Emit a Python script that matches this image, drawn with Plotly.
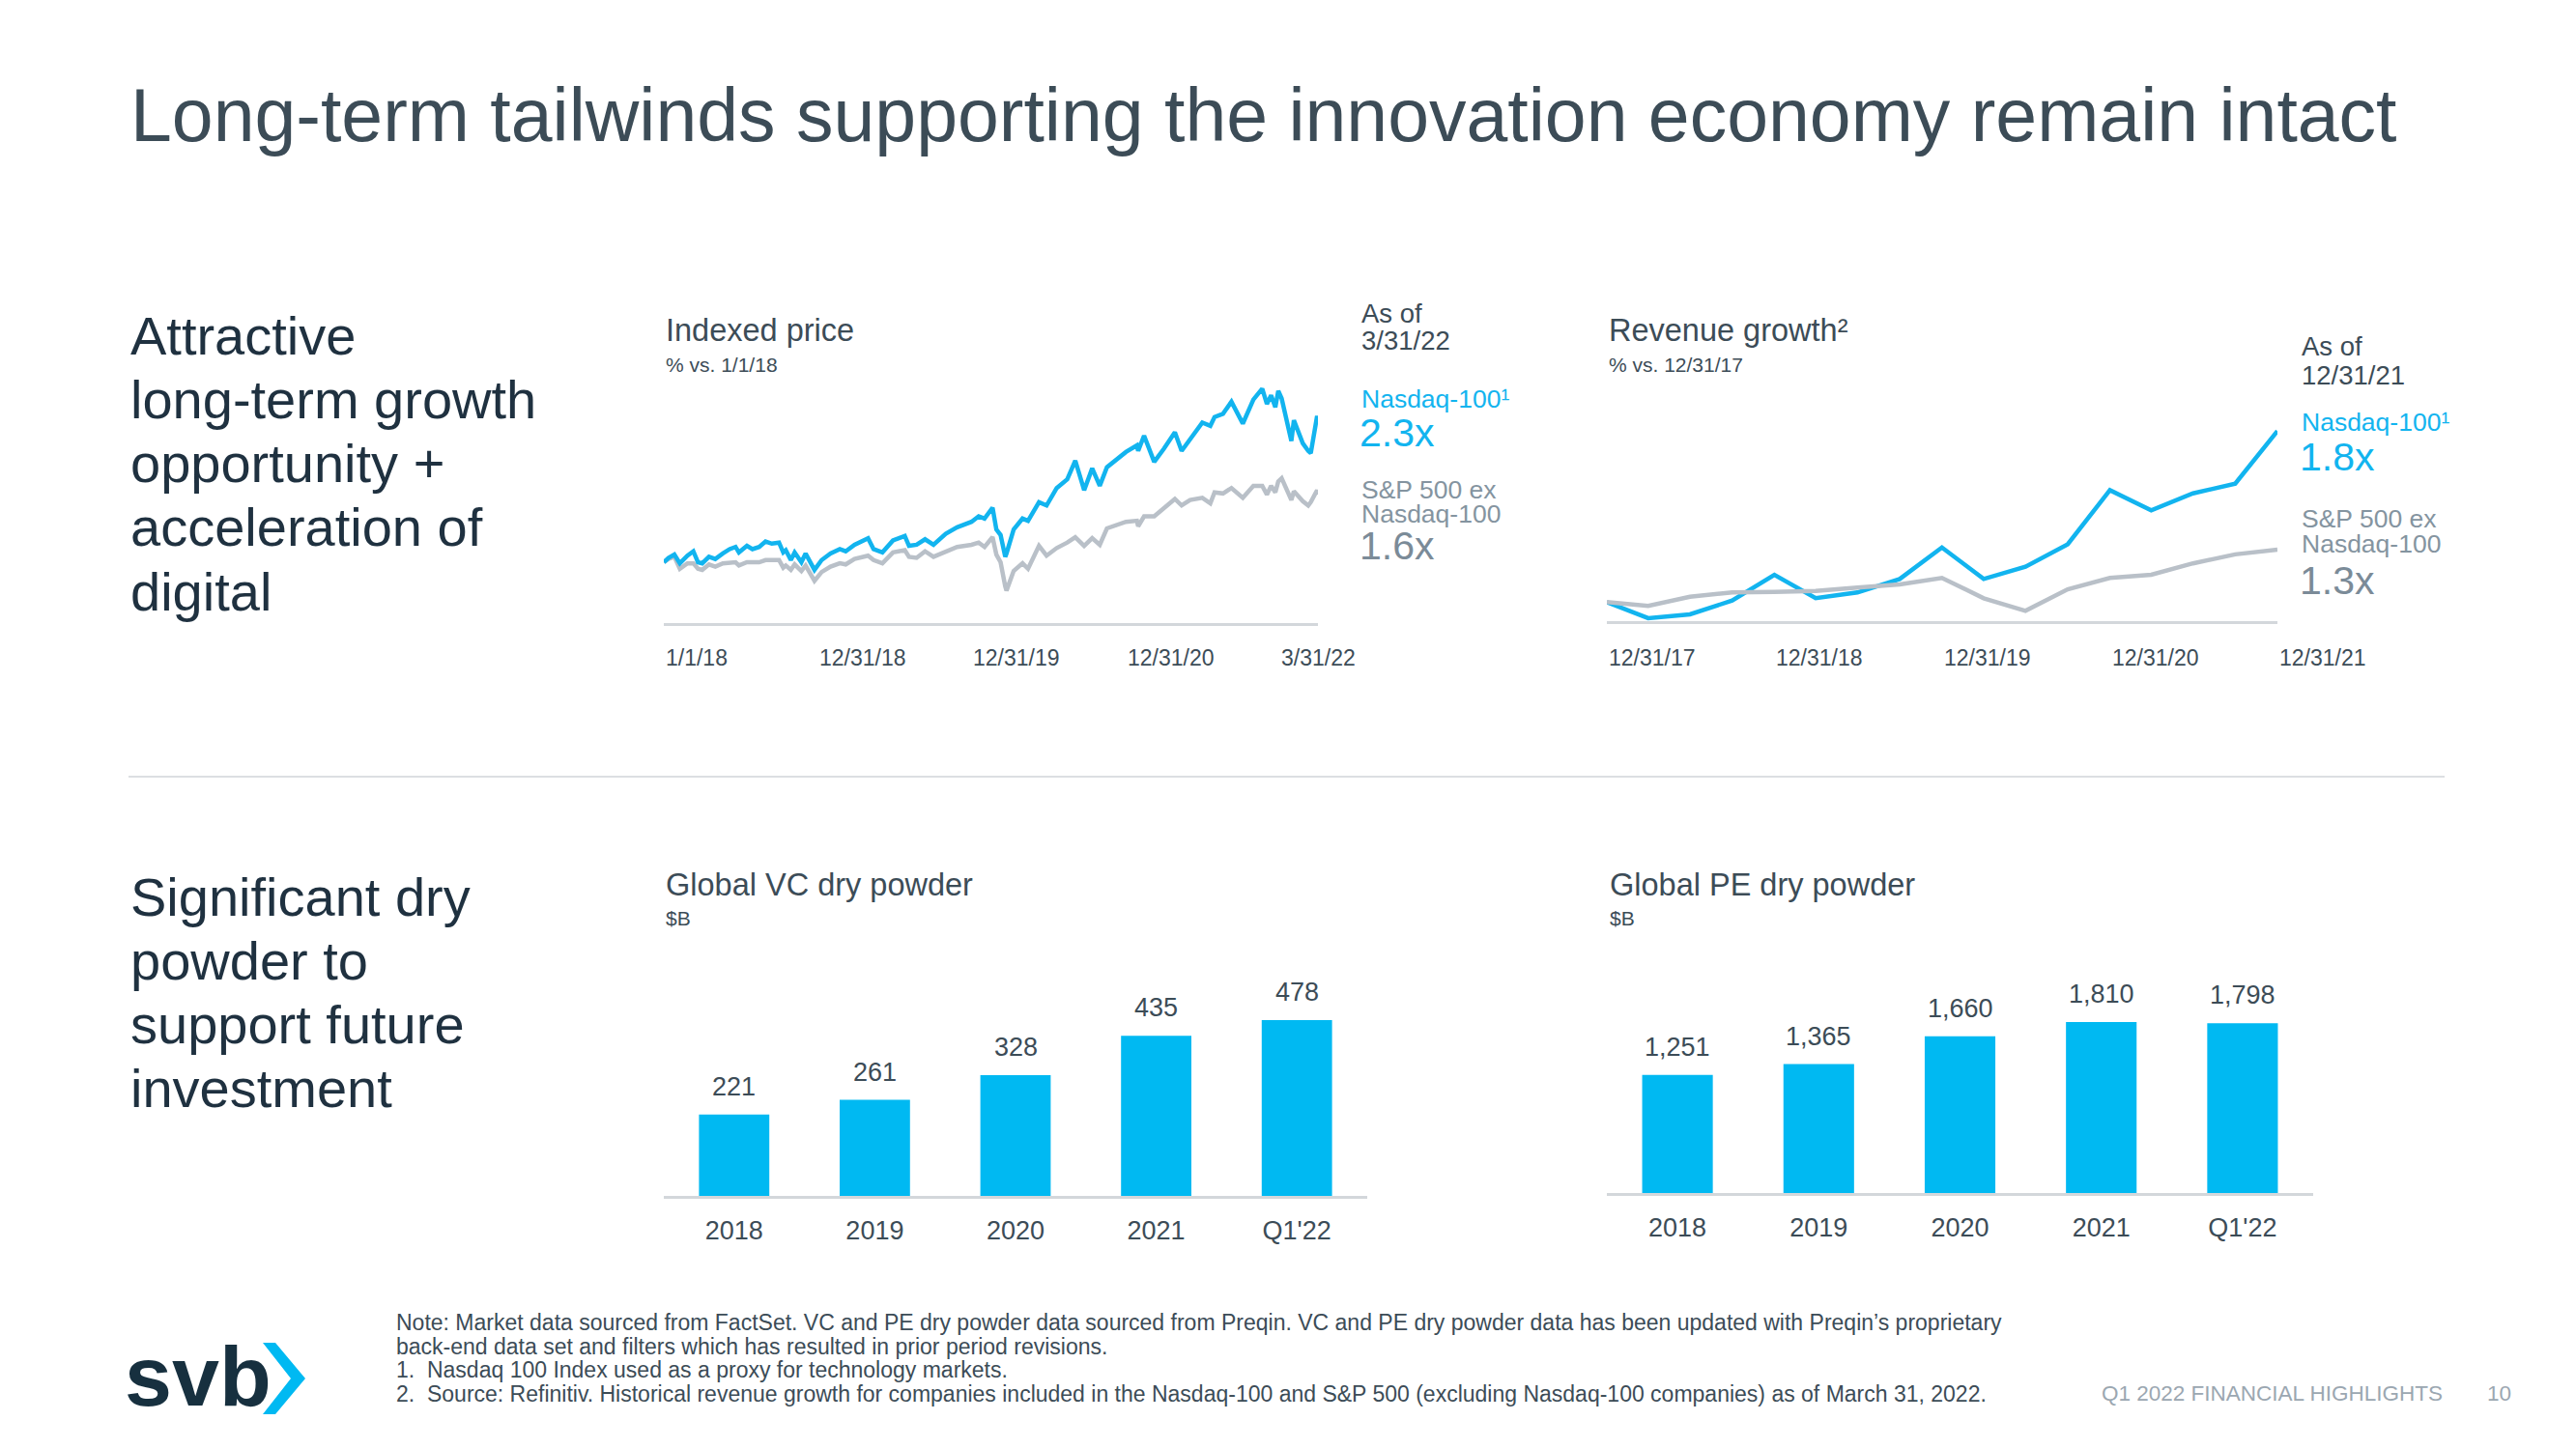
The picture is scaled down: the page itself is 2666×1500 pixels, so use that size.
import plotly.graph_objects as go

W, H = 2666, 1500
OFF = 8                      # page margin added around the plot by the browser
FW, FH = W - 2 * OFF, H - 2 * OFF

# ---------------- data ----------------
price_dates = [
    "2018-01-01", "2018-01-12", "2018-01-26", "2018-02-08", "2018-02-26", "2018-03-12",
    "2018-03-23", "2018-04-02", "2018-04-18", "2018-05-03", "2018-05-21", "2018-06-06",
    "2018-06-20", "2018-06-28", "2018-07-17", "2018-07-30", "2018-08-15", "2018-08-30",
    "2018-09-14", "2018-10-01", "2018-10-11", "2018-10-17", "2018-10-29", "2018-11-07",
    "2018-11-23", "2018-12-03", "2018-12-24", "2019-01-10", "2019-01-31", "2019-02-22",
    "2019-03-08", "2019-03-29", "2019-04-30", "2019-05-13", "2019-06-03", "2019-06-28",
    "2019-07-26", "2019-08-05", "2019-08-23", "2019-09-12", "2019-10-02", "2019-10-31",
    "2019-11-27", "2019-12-31", "2020-01-17", "2020-01-31", "2020-02-19", "2020-02-28",
    "2020-03-09", "2020-03-20", "2020-03-23", "2020-04-09", "2020-04-30", "2020-05-13",
    "2020-06-08", "2020-06-26", "2020-07-20", "2020-08-14", "2020-09-02", "2020-09-23",
    "2020-10-12", "2020-10-30", "2020-11-16", "2020-12-31", "2021-01-26", "2021-01-29",
    "2021-02-12", "2021-03-08", "2021-03-31", "2021-04-26", "2021-05-12", "2021-06-01",
    "2021-06-30", "2021-07-19", "2021-07-29", "2021-08-18", "2021-09-07", "2021-09-30",
    "2021-10-04", "2021-10-29", "2021-11-19", "2021-11-30", "2021-12-10", "2021-12-20",
    "2021-12-27", "2022-01-04", "2022-01-27", "2022-02-02", "2022-02-23", "2022-03-08",
    "2022-03-14", "2022-03-29", "2022-03-31",
]
nasdaq_idx = [
    1.00, 1.04, 1.07, 0.99, 1.06, 1.10,
    1.00, 0.99, 1.05, 1.03, 1.08, 1.12,
    1.14, 1.09, 1.15, 1.12, 1.14, 1.19,
    1.17, 1.18, 1.09, 1.11, 1.02, 1.09,
    1.00, 1.08, 0.93, 1.02, 1.08, 1.12,
    1.10, 1.16, 1.22, 1.12, 1.09, 1.20,
    1.24, 1.15, 1.16, 1.21, 1.16, 1.26,
    1.32, 1.37, 1.42, 1.40, 1.50, 1.30,
    1.25, 1.05, 1.08, 1.30, 1.40, 1.38,
    1.55, 1.52, 1.68, 1.76, 1.93, 1.66,
    1.86, 1.70, 1.87, 2.01, 2.07, 2.02,
    2.16, 1.92, 2.04, 2.19, 2.02, 2.12,
    2.28, 2.25, 2.33, 2.36, 2.47, 2.30,
    2.27, 2.49, 2.59, 2.45, 2.53, 2.42,
    2.57, 2.50, 2.11, 2.30, 2.09, 2.02,
    2.00, 2.34, 2.30,
]
sp_ex_idx = [
    1.00, 1.03, 1.05, 0.94, 0.99, 0.99,
    0.94, 0.93, 0.98, 0.96, 0.99, 1.00,
    1.00, 0.97, 1.00, 1.00, 1.00, 1.02,
    1.02, 1.02, 0.95, 0.97, 0.93, 0.98,
    0.92, 0.97, 0.83, 0.91, 0.96, 0.99,
    0.98, 1.03, 1.06, 1.02, 0.99, 1.09,
    1.11, 1.05, 1.04, 1.10, 1.05, 1.10,
    1.14, 1.16, 1.18, 1.14, 1.23, 1.07,
    1.00, 0.78, 0.74, 0.92, 0.99, 0.94,
    1.15, 1.06, 1.13, 1.18, 1.23, 1.15,
    1.22, 1.16, 1.31, 1.37, 1.38, 1.33,
    1.42, 1.42, 1.50, 1.58, 1.52, 1.57,
    1.59, 1.54, 1.64, 1.63, 1.68, 1.60,
    1.59, 1.70, 1.70, 1.62, 1.70, 1.64,
    1.74, 1.77, 1.57, 1.65, 1.56, 1.52,
    1.55, 1.66, 1.62,
]
price_tick_dates = ["2018-01-01", "2018-12-31", "2019-12-31", "2020-12-31", "2022-03-31"]
price_tick_labels = ["1/1/18", "12/31/18", "12/31/19", "12/31/20", "3/31/22"]

rev_dates = [
    "2017-12-31", "2018-03-31", "2018-06-30", "2018-09-30", "2018-12-31",
    "2019-03-31", "2019-06-30", "2019-09-30", "2019-12-31",
    "2020-03-31", "2020-06-30", "2020-09-30", "2020-12-31",
    "2021-03-31", "2021-06-30", "2021-09-30", "2021-12-31",
]
rev_nasdaq = [1.00, 0.925, 0.943, 1.007, 1.127, 1.018, 1.045, 1.108, 1.255,
              1.108, 1.165, 1.270, 1.523, 1.429, 1.508, 1.553, 1.799]
rev_sp_ex = [1.00, 0.982, 1.025, 1.045, 1.048, 1.052, 1.068, 1.083, 1.113,
             1.018, 0.959, 1.060, 1.113, 1.128, 1.181, 1.223, 1.245]
rev_tick_dates = ["2017-12-31", "2018-12-31", "2019-12-31", "2020-12-31", "2021-12-31"]
rev_tick_labels = ["12/31/17", "12/31/18", "12/31/19", "12/31/20", "12/31/21"]

bar_cats = ["2018", "2019", "2020", "2021", "Q1'22"]
vc_dry_powder = [221, 261, 328, 435, 478]
pe_dry_powder = [1251, 1365, 1660, 1810, 1798]

# ---------------- styling ----------------
FONT = "Liberation Sans, Arial, sans-serif"
DARK = "#3c4c57"
NAVY = "#1f3140"
BLUE_LINE = "#12b4ef"
BLUE_BAR = "#00b9f2"
GRAY_LINE = "#b9c0c8"
GRAY_TXT = "#8494a0"
GRAY_BIG = "#7b8b98"
AXIS = "#d3d7db"


def px(x):
    return (x - OFF) / FW


def py(y):
    return 1 - (y - OFF) / FH


def dx(a, b):
    return [px(a), px(b)]


def dy(top, bottom):
    return [py(bottom), py(top)]


fig = go.Figure()

# Indexed price
fig.add_trace(go.Scatter(x=price_dates, y=sp_ex_idx, mode="lines",
                         line=dict(color=GRAY_LINE, width=4.5), xaxis="x", yaxis="y",
                         hoverinfo="skip"))
fig.add_trace(go.Scatter(x=price_dates, y=nasdaq_idx, mode="lines",
                         line=dict(color=BLUE_LINE, width=4.5), xaxis="x", yaxis="y",
                         hoverinfo="skip"))
# Revenue growth
fig.add_trace(go.Scatter(x=rev_dates, y=rev_nasdaq, mode="lines",
                         line=dict(color=BLUE_LINE, width=4.5), xaxis="x2", yaxis="y2",
                         hoverinfo="skip"))
fig.add_trace(go.Scatter(x=rev_dates, y=rev_sp_ex, mode="lines",
                         line=dict(color=GRAY_LINE, width=4.5), xaxis="x2", yaxis="y2",
                         hoverinfo="skip"))
# Bars
fig.add_trace(go.Bar(x=bar_cats, y=vc_dry_powder, marker=dict(color=BLUE_BAR, line=dict(width=0)),
                     xaxis="x3", yaxis="y3", hoverinfo="skip"))
fig.add_trace(go.Bar(x=bar_cats, y=pe_dry_powder, marker=dict(color=BLUE_BAR, line=dict(width=0)),
                     xaxis="x4", yaxis="y4", hoverinfo="skip"))

hidden_y = dict(visible=False, showgrid=False, zeroline=False, fixedrange=True)
line_x = dict(showline=True, linecolor=AXIS, linewidth=3, showgrid=False, zeroline=False,
              ticks="", fixedrange=True)

fig.update_layout(
    width=FW, height=FH,
    margin=dict(l=0, r=0, t=0, b=0),
    paper_bgcolor="white", plot_bgcolor="rgba(0,0,0,0)",
    showlegend=False,
    bargap=0.5,
    font=dict(family=FONT, color=DARK),
    xaxis=dict(domain=dx(687, 1364), type="date", range=["2018-01-01", "2022-03-31"],
               showticklabels=False, anchor="y", **line_x),
    yaxis=dict(domain=dy(380, 645), range=[0.4425, 2.788], anchor="x", **hidden_y),
    xaxis2=dict(domain=dx(1663, 2357), type="date", range=["2017-12-31", "2021-12-31"],
                showticklabels=False, anchor="y2", **line_x),
    yaxis2=dict(domain=dy(380, 643), range=[0.911, 2.098], anchor="x2", **hidden_y),
    xaxis3=dict(domain=dx(687, 1415), type="category", range=[-0.5, 4.5], anchor="y3",
                tickfont=dict(size=27, color=DARK, family=FONT), ticklabelstandoff=10, **line_x),
    yaxis3=dict(domain=dy(1000, 1238), range=[0, 625], anchor="x3", **hidden_y),
    xaxis4=dict(domain=dx(1663, 2394), type="category", range=[-0.5, 4.5], anchor="y4",
                tickfont=dict(size=27, color=DARK, family=FONT), ticklabelstandoff=10, **line_x),
    yaxis4=dict(domain=dy(1000, 1235), range=[0, 2403], anchor="x4", **hidden_y),
)

ann = []


def text(x, y, s, size, color=DARK, anchor="left", bold=False):
    ann.append(dict(x=px(x), y=py(y), xref="paper", yref="paper", text=(f"<b>{s}</b>" if bold else s),
                    showarrow=False, xanchor=anchor, yanchor="middle",
                    font=dict(size=size, color=color, family=FONT)))


# Title
text(133, 119, "Long-term tailwinds supporting the innovation economy remain intact", 77, DARK)

# Left section headings
for i, line in enumerate(["Attractive", "long-term growth", "opportunity +", "acceleration of", "digital"]):
    text(133, 347 + i * 66.3, line, 56, NAVY)
for i, line in enumerate(["Significant dry", "powder to", "support future", "investment"]):
    text(133, 928 + i * 66.3, line, 56, NAVY)

# Chart titles
text(687, 342, "Indexed price", 32.5, DARK)
text(687, 377, "% vs. 1/1/18", 21, DARK)
text(1663, 342, "Revenue growth²", 32.5, DARK)
text(1663, 377, "% vs. 12/31/17", 21, DARK)
text(687, 916, "Global VC dry powder", 32.5, DARK)
text(687, 950, "$B", 21, DARK)
text(1664, 916, "Global PE dry powder", 32.5, DARK)
text(1664, 950, "$B", 21, DARK)

# Right-side labels, chart 1
text(1407, 324, "As of", 27.5, DARK)
text(1407, 352, "3/31/22", 27.5, DARK)
text(1407, 413, "Nasdaq-100¹", 26.5, BLUE_LINE)
text(1405, 448, "2.3x", 41, BLUE_LINE)
text(1407, 507, "S&P 500 ex", 26.5, GRAY_TXT)
text(1407, 532, "Nasdaq-100", 26.5, GRAY_TXT)
text(1405, 565, "1.6x", 41, GRAY_BIG)

# Right-side labels, chart 2
text(2380, 358, "As of", 27.5, DARK)
text(2380, 388, "12/31/21", 27.5, DARK)
text(2380, 437, "Nasdaq-100¹", 26.5, BLUE_LINE)
text(2378, 473, "1.8x", 41, BLUE_LINE)
text(2380, 537, "S&P 500 ex", 26.5, GRAY_TXT)
text(2380, 563, "Nasdaq-100", 26.5, GRAY_TXT)
text(2378, 601, "1.3x", 41, GRAY_BIG)

# Line chart tick labels (left aligned at tick, last one of chart 1 centred)
for i, (d, lab) in enumerate(zip(price_tick_dates, price_tick_labels)):
    ann.append(dict(x=d, y=py(681), xref="x", yref="paper", text=lab, showarrow=False,
                    xanchor=("center" if i == len(price_tick_dates) - 1 else "left"), yanchor="middle",
                    font=dict(size=23, color=DARK, family=FONT)))
for d, lab in zip(rev_tick_dates, rev_tick_labels):
    ann.append(dict(x=d, y=py(681), xref="x2", yref="paper", text=lab, showarrow=False,
                    xanchor="left", yanchor="middle",
                    font=dict(size=23, color=DARK, family=FONT)))

# Bar value labels (category positions by index)
for i, v in enumerate(vc_dry_powder):
    ann.append(dict(x=i, y=v, xref="x3", yref="y3", text=f"{v:,}", showarrow=False,
                    xanchor="center", yanchor="bottom", yshift=12,
                    font=dict(size=27, color=DARK, family=FONT)))
for i, v in enumerate(pe_dry_powder):
    ann.append(dict(x=i, y=v, xref="x4", yref="y4", text=f"{v:,}", showarrow=False,
                    xanchor="center", yanchor="bottom", yshift=12,
                    font=dict(size=27, color=DARK, family=FONT)))

# Footer
notes = [
    "Note: Market data sourced from FactSet. VC and PE dry powder data sourced from Preqin. VC and PE dry powder data has been updated with Preqin’s proprietary",
    "back-end data set and filters which has resulted in prior period revisions.",
    "1.  Nasdaq 100 Index used as a proxy for technology markets.",
    "2.  Source: Refinitiv. Historical revenue growth for companies included in the Nasdaq-100 and S&P 500 (excluding Nasdaq-100 companies) as of March 31, 2022.",
]
for i, n in enumerate(notes):
    text(408, 1369 + i * 24.5, n, 23, DARK)
text(2530, 1442, "Q1 2022 FINANCIAL HIGHLIGHTS", 22.5, "#9ba7b1", anchor="right")
text(2586, 1442, "10", 22.5, "#9ba7b1", anchor="center")
text(127, 1424, "svb", 88, "#17303f", bold=True)

fig.update_layout(annotations=ann)

# Separator line and logo chevron
fig.add_shape(type="line", xref="paper", yref="paper", x0=px(133), x1=px(2530), y0=py(804), y1=py(804),
              line=dict(color="#dcdfe2", width=2))
chev = [(272, 1390), (285, 1390), (316, 1427), (285, 1464), (272, 1464), (301, 1427)]
path = "M " + " L ".join(f"{px(a)} {py(b)}" for a, b in chev) + " Z"
fig.add_shape(type="path", xref="paper", yref="paper", path=path,
              fillcolor=BLUE_BAR, line=dict(width=0))

fig.write_html("out.html")
